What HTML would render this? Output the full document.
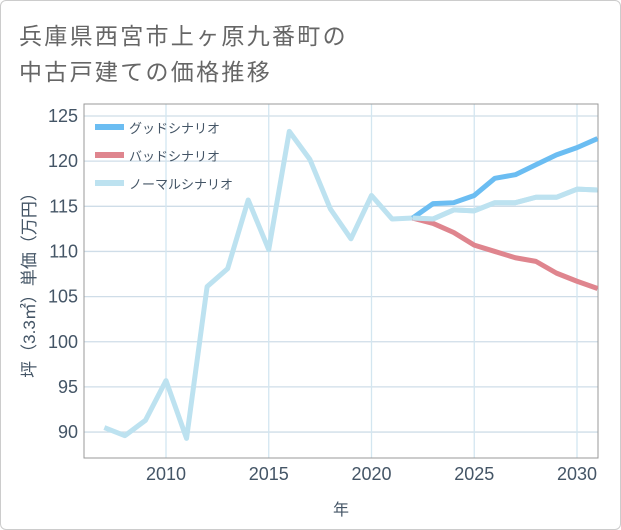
<!DOCTYPE html>
<html><head><meta charset="utf-8"><style>
body{margin:0;background:#fff;}
#card{position:absolute;left:0;top:0;width:619px;height:528px;border:1px solid #ccc;border-radius:6px;background:#fff;overflow:hidden}
.t{position:absolute;left:18px;font:23px "Liberation Sans","Noto Sans CJK JP",sans-serif;color:#666;letter-spacing:2.3px;white-space:nowrap}
svg{position:absolute;left:0;top:0}
</style></head><body>
<div id="card">
<div class="t" style="top:16px">兵庫県西宮市上ヶ原九番町の</div>
<div class="t" style="top:52px">中古戸建ての価格推移</div>
<svg id="c" width="621" height="530"></svg>
</div>
<script>
const years=[2007,2008,2009,2010,2011,2012,2013,2014,2015,2016,2017,2018,2019,2020,2021,2022,2023,2024,2025,2026,2027,2028,2029,2030,2031];
const normal=[90.5,89.6,91.3,95.7,89.3,106.1,108.1,115.7,110.2,123.3,120.2,114.7,111.4,116.2,113.6,113.7,113.6,114.6,114.5,115.4,115.4,116.0,116.0,116.9,116.8];
const goodYears=[2022,2023,2024,2025,2026,2027,2028,2029,2030,2031];
const good=[113.7,115.3,115.4,116.2,118.1,118.5,119.6,120.7,121.5,122.5];
const bad=[113.7,113.1,112.1,110.7,110.0,109.3,108.9,107.6,106.7,105.9];
const yTicks=[90,95,100,105,110,115,120,125];
const xTicks=[2010,2015,2020,2025,2030];
const L=83,R=597,T=103,B=457;
const x=v=>165+(v-2010)*20.55;
const y=v=>115+(125-v)*9.03;
const s=document.getElementById('c');const NS='http://www.w3.org/2000/svg';
function mk(t,a){const e=document.createElementNS(NS,t);for(const k in a)e.setAttribute(k,a[k]);s.appendChild(e);return e;}
for(const v of yTicks){const g=mk('line',{x1:L,x2:R,y1:y(v),y2:y(v),stroke:'#cfdde8','stroke-width':1.3});


const t=mk('text',{x:77,y:y(v)+6,'text-anchor':'end','font-size':18,fill:'#456','font-family':'Liberation Sans,sans-serif'});t.textContent=v;

}
for(const v of xTicks){const g=mk('line',{x1:x(v),x2:x(v),y1:T,y2:B,stroke:'#d3e6f0','stroke-width':1.3});


const t=mk('text',{x:x(v),y:479,'text-anchor':'middle','font-size':18,fill:'#456','font-family':'Liberation Sans,sans-serif'});t.textContent=v;

}
const fr=mk('rect',{x:L,y:T,width:R-L,height:B-T,fill:'none',stroke:'#999','stroke-width':1});


const cp=mk('clipPath',{id:'cp'});const cr=document.createElementNS(NS,'rect');cr.setAttribute('x',L);cr.setAttribute('y',T);cr.setAttribute('width',R-L);cr.setAttribute('height',B-T);cp.appendChild(cr);
function line(xs,vs,col,name){const p=mk('polyline',{points:xs.map((a,i)=>x(a)+','+y(vs[i])).join(' '),fill:'none',stroke:col,'stroke-width':5,'stroke-linejoin':'round','clip-path':'url(#cp)'});

}
line(years,normal,'#bde2f0','normal-scenario-line');
line(goodYears,bad,'#df858e','bad-scenario-line');
line(goodYears,good,'#6bbdf2','good-scenario-line');
line(years.slice(15),normal.slice(15),'#bde2f0','normal-scenario-forecast');
const leg=[['グッドシナリオ','#6bbdf2'],['バッドシナリオ','#df858e'],['ノーマルシナリオ','#bde2f0']];
leg.forEach((d,i)=>{const ly=127+i*28;const r=mk('rect',{x:94,y:ly-4,width:29,height:6,fill:d[1]});


const t=mk('text',{x:128,y:ly+5,'font-size':13,fill:'#456','font-family':'Liberation Sans,Noto Sans CJK JP,sans-serif'});t.textContent=d[0];

});
const yt=mk('text',{transform:'translate(34,280) rotate(-90)','text-anchor':'middle','font-size':17,fill:'#456','font-family':'Liberation Sans,Noto Sans CJK JP,sans-serif'});yt.textContent='坪（3.3㎡）単価（万円）';


const xt=mk('text',{x:340,y:514,'text-anchor':'middle','font-size':16,fill:'#456','font-family':'Liberation Sans,Noto Sans CJK JP,sans-serif'});xt.textContent='年';


</script>
</body></html>
